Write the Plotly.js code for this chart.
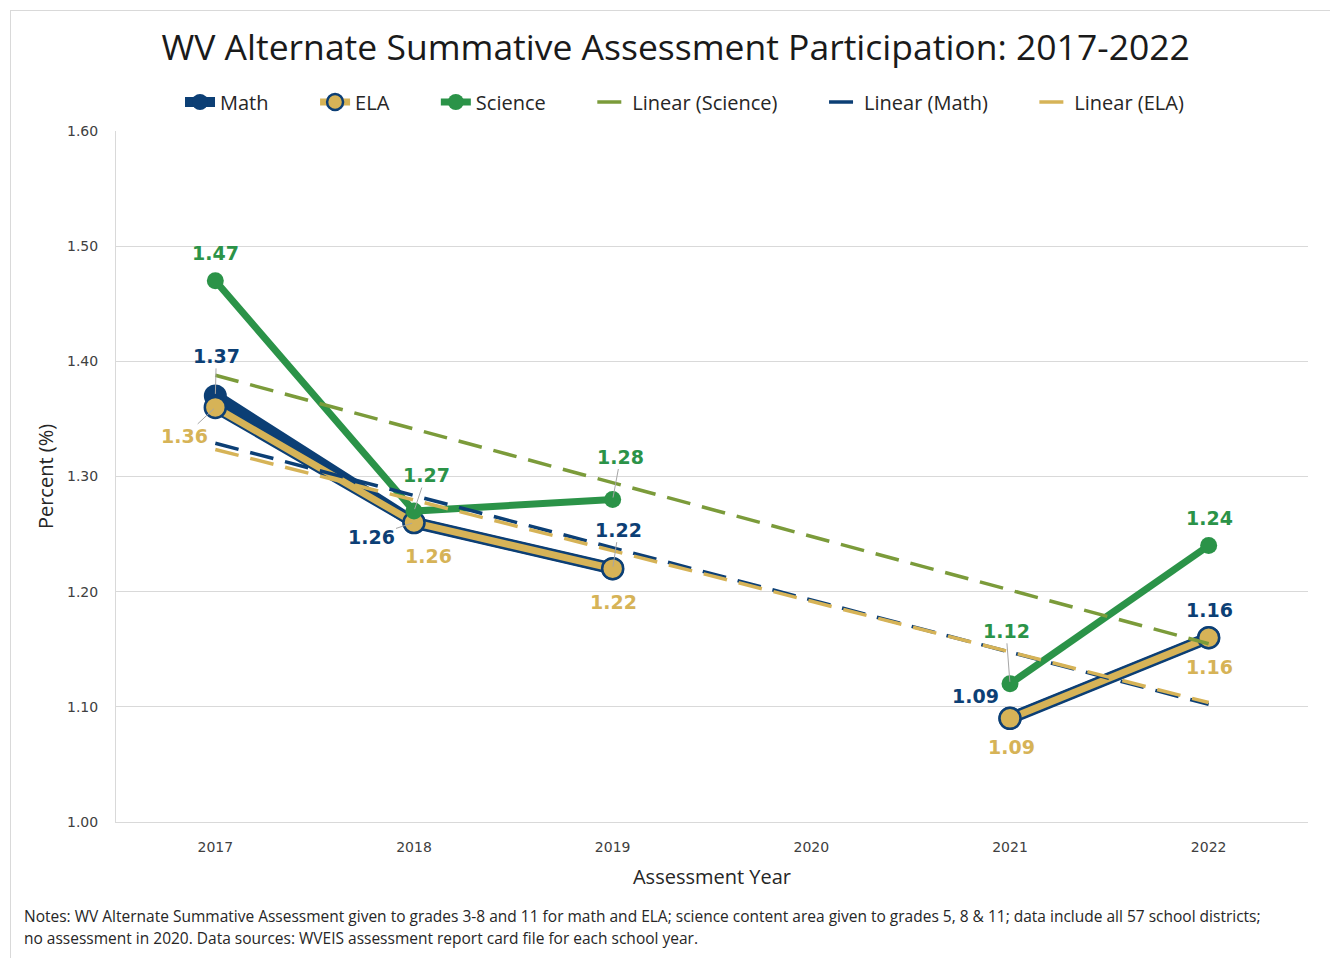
<!DOCTYPE html>
<html>
<head>
<meta charset="utf-8">
<script src="https://cdn.plot.ly/plotly-3.0.1.min.js"></script>
<style>
  html, body { margin: 0; padding: 0; background: #ffffff; }
  #frameTop { position: absolute; left: 10px; top: 10px; width: 1320px; height: 0; border-top: 1px solid #d9d9d9; }
  #frameLeft { position: absolute; left: 10px; top: 10px; width: 0; height: 948px; border-left: 1px solid #d9d9d9; }
  #chart { position: absolute; left: 0; top: 0; width: 1330px; height: 958px; }
</style>
</head>
<body>
<div id="chart"></div>
<div id="frameTop"></div>
<div id="frameLeft"></div>
<script>
// ---- data ----
const years = ['2017', '2018', '2019', '2020', '2021', '2022'];
const mathVals = [1.37, 1.26, 1.22, null, 1.09, 1.16];
const elaVals = [1.36, 1.26, 1.22, null, 1.09, 1.16];
const scienceVals = [1.47, 1.27, 1.28, null, 1.12, 1.24];
const yTickVals = [1.0, 1.1, 1.2, 1.3, 1.4, 1.5, 1.6];
const noteLine1 = 'Notes: WV Alternate Summative Assessment given to grades 3-8 and 11 for math and ELA; science content area given to grades 5, 8 & 11; data include all 57 school districts;';
const noteLine2 = 'no assessment in 2020. Data sources: WVEIS assessment report card file for each school year.';

// ---- colours ----
const NAVY = '#0c3f75';
const GOLD = '#d6b357';
const GREEN = '#2b9348';
const OLIVE = '#7b9b3a';

// Excel-style linear trendline (least squares on category index 1..n, skipping gaps)
function trend(vals) {
  const pts = [];
  vals.forEach((v, i) => { if (v !== null) pts.push([i + 1, v]); });
  const n = pts.length;
  const mx = pts.reduce((s, p) => s + p[0], 0) / n;
  const my = pts.reduce((s, p) => s + p[1], 0) / n;
  let sxy = 0, sxx = 0;
  pts.forEach(p => { sxy += (p[0] - mx) * (p[1] - my); sxx += (p[0] - mx) * (p[0] - mx); });
  const b = sxy / sxx, a = my - b * mx;
  return vals.map((v, i) => a + b * (i + 1));
}

const SP = '\u00a0\u00a0\u00a0\u00a0\u00a0\u00a0\u00a0\u00a0';
const traces = [
  { x: years, y: mathVals, name: 'Math' + SP, mode: 'lines+markers', connectgaps: false,
    line: { color: NAVY, width: 12 }, marker: { color: NAVY, size: 23 } },
  { x: years, y: elaVals, name: 'ELA border', showlegend: false, hoverinfo: 'skip', mode: 'lines', connectgaps: false,
    line: { color: NAVY, width: 11 } },
  { x: years, y: elaVals, name: 'ELA' + SP, mode: 'lines+markers', connectgaps: false,
    line: { color: GOLD, width: 7 }, marker: { color: GOLD, size: 21, line: { color: NAVY, width: 2.5 } } },
  { x: years, y: scienceVals, name: 'Science' + SP, mode: 'lines+markers', connectgaps: false,
    line: { color: GREEN, width: 7 }, marker: { color: GREEN, size: 17 } },
  { x: years, y: trend(scienceVals), name: 'Linear (Science)' + SP, mode: 'lines',
    line: { color: OLIVE, width: 3.5, dash: '24px,12px' } },
  { x: years, y: trend(mathVals), name: 'Linear (Math)' + SP, mode: 'lines',
    line: { color: NAVY, width: 3.5, dash: '24px,12px' } },
  { x: years, y: trend(elaVals), name: 'Linear (ELA)', mode: 'lines',
    line: { color: GOLD, width: 3.5, dash: '24px,12px' } }
];

// data label placement (pixel offsets from each point; third item = leader line)
const labelFont = { family: 'DejaVu Sans', size: 19 };
const placement = {
  science: [[0, -28, false], [12, -36, true], [8, -43, true], null, [-4, -53, true], [1, -28, false]],
  math:    [[1, -40, true], [-43, 14, true], [6, -39, true], null, [-35, -22, false], [1, -28, false]],
  ela:     [[-31, 29, true], [14, 33, false], [1, 33, false], null, [1, 29, false], [1, 29, false]]
};
const annotations = [];
function addLabels(vals, color, pl) {
  vals.forEach((v, i) => {
    if (v === null) return;
    const p = pl[i];
    const a = { x: i, y: v, xref: 'x', yref: 'y', text: '<b>' + v.toFixed(2) + '</b>',
      font: Object.assign({ color: color }, labelFont) };
    if (p[2]) {
      Object.assign(a, { showarrow: true, ax: p[0], ay: p[1], arrowhead: 0, arrowwidth: 1,
        arrowcolor: '#a6a6a6', standoff: 2 });
    } else {
      Object.assign(a, { showarrow: false, xshift: p[0], yshift: -p[1] });
    }
    annotations.push(a);
  });
}
addLabels(scienceVals, GREEN, placement.science);
addLabels(mathVals, NAVY, placement.math);
addLabels(elaVals, GOLD, placement.ela);

annotations.push({ xref: 'paper', yref: 'paper', x: -0.079, y: -0.136, xanchor: 'left', yanchor: 'middle',
  showarrow: false, align: 'left', text: noteLine1, font: { family: 'Open Sans', size: 15.5, color: '#262626' } });
annotations.push({ xref: 'paper', yref: 'paper', x: -0.079, y: -0.168, xanchor: 'left', yanchor: 'middle',
  showarrow: false, align: 'left', text: noteLine2, font: { family: 'Open Sans', size: 15.5, color: '#262626' } });

const layout = {
  width: 1330, height: 958,
  margin: { l: 116, r: 22, t: 131, b: 136 },
  paper_bgcolor: 'rgba(0,0,0,0)', plot_bgcolor: '#ffffff',
  font: { family: 'Open Sans', color: '#262626' },
  title: { text: 'WV Alternate Summative Assessment Participation: 2017-2022',
    font: { family: 'Open Sans', size: 35.5, color: '#1a1a1a' },
    x: 0.508, xanchor: 'center', y: 0.95, yanchor: 'middle', yref: 'container' },
  showlegend: true,
  legend: { orientation: 'h', x: 0.0537, xanchor: 'left', y: 1.042, yanchor: 'middle',
    font: { family: 'Open Sans', size: 20, color: '#262626' }, traceorder: 'normal' },
  xaxis: { type: 'category', categoryorder: 'array', categoryarray: years, range: [-0.5, 5.5],
    showgrid: false, showline: true, linecolor: '#d9d9d9', linewidth: 1, zeroline: false,
    ticks: '', ticklabelstandoff: 12,
    tickfont: { family: 'DejaVu Sans', size: 14, color: '#404040' },
    title: { text: 'Assessment Year', font: { family: 'Open Sans', size: 20, color: '#262626' }, standoff: 16 } },
  yaxis: { range: [1.0, 1.6], tickvals: yTickVals, tickformat: '.2f',
    showgrid: true, gridcolor: '#d9d9d9', gridwidth: 1, showline: true, linecolor: '#d9d9d9', zeroline: false,
    ticks: '', ticklabelstandoff: 14,
    tickfont: { family: 'DejaVu Sans', size: 14, color: '#404040' },
    title: { text: 'Percent (%)', font: { family: 'Open Sans', size: 20, color: '#262626' }, standoff: 8 } },
  annotations: annotations
};

Plotly.newPlot('chart', traces, layout, { displayModeBar: false, staticPlot: true });
</script>
</body>
</html>
